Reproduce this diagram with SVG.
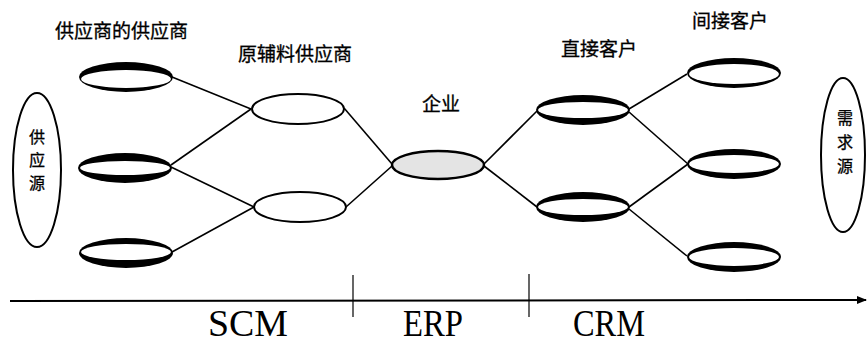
<svg xmlns="http://www.w3.org/2000/svg" width="867" height="343" viewBox="0 0 867 343">
<defs>
<style>
.cjk{font-family:"Noto Sans CJK SC","Noto Sans",sans-serif;font-size:19px;fill:#000;stroke:#000;stroke-width:0.3}
.vt{font-family:"Noto Sans CJK SC","Noto Sans",sans-serif;font-size:16px;fill:#000;text-anchor:middle;stroke:#000;stroke-width:0.3}
.lat{font-family:"Liberation Serif","Times New Roman",serif;font-size:37px;fill:#000}
.outer{fill:#000}
.inner{fill:#fff}
.thin{fill:#fff;stroke:#000;stroke-width:2}
.big{fill:#fff;stroke:#000;stroke-width:2}
.conn{stroke:#000;stroke-width:1.6;fill:none}
</style>
<marker id="arr" viewBox="0 0 10 10" refX="9" refY="5" markerWidth="10" markerHeight="10" markerUnits="userSpaceOnUse" orient="auto">
<path d="M0,1 L10,5 L0,9 Z" fill="#000"/>
</marker>
</defs>
<rect width="867" height="343" fill="#fff"/>

<g id="connectors">
<line class="conn" x1="172" y1="77" x2="251" y2="109"/>
<line class="conn" x1="171" y1="165" x2="251" y2="109"/>
<line class="conn" x1="171" y1="167" x2="254" y2="207"/>
<line class="conn" x1="172" y1="252" x2="254" y2="207"/>
<line class="conn" x1="344" y1="108" x2="392" y2="164"/>
<line class="conn" x1="346" y1="207" x2="392" y2="166"/>
<line class="conn" x1="484" y1="164" x2="537" y2="111"/>
<line class="conn" x1="484" y1="166" x2="537" y2="207"/>
<line class="conn" x1="629" y1="109" x2="687" y2="74"/>
<line class="conn" x1="629" y1="112" x2="688" y2="164"/>
<line class="conn" x1="629" y1="207" x2="688" y2="164"/>
<line class="conn" x1="629" y1="209" x2="687" y2="256"/>
</g>

<g id="axis">
<line x1="10" y1="301" x2="866" y2="300" stroke="#000" stroke-width="2" marker-end="url(#arr)"/>
<line x1="353" y1="275" x2="353" y2="317" stroke="#000" stroke-width="1.2"/>
<line x1="529" y1="274" x2="529" y2="317" stroke="#000" stroke-width="1.2"/>
<text class="lat" x="208" y="336" textLength="80" lengthAdjust="spacingAndGlyphs">SCM</text>
<text class="lat" x="403" y="336" textLength="60" lengthAdjust="spacingAndGlyphs">ERP</text>
<text class="lat" x="573" y="336" textLength="72" lengthAdjust="spacingAndGlyphs">CRM</text>
</g>

<g id="supply-source">
<ellipse class="big" cx="37" cy="170" rx="24" ry="77"/>
<text class="vt" x="37" y="143">供</text>
<text class="vt" x="37" y="166">应</text>
<text class="vt" x="37" y="189">源</text>
</g>

<g id="demand-source">
<ellipse class="big" cx="843" cy="155" rx="22" ry="77"/>
<text class="vt" x="845" y="124">需</text>
<text class="vt" x="845" y="148">求</text>
<text class="vt" x="845" y="172">源</text>
</g>

<g id="label-supplier-supplier"><text class="cjk" x="55" y="38">供应商的供应商</text></g>
<g id="label-raw-supplier"><text class="cjk" x="238" y="61">原辅料供应商</text></g>
<g id="label-enterprise"><text class="cjk" x="422" y="111">企业</text></g>
<g id="label-direct"><text class="cjk" x="561" y="56">直接客户</text></g>
<g id="label-indirect"><text class="cjk" x="692" y="28">间接客户</text></g>

<g id="ss1"><ellipse class="outer" cx="126" cy="77" rx="47" ry="15"/><ellipse class="inner" cx="126" cy="79" rx="45" ry="9"/></g>
<g id="ss2"><ellipse class="outer" cx="125" cy="168" rx="47" ry="15"/><ellipse class="inner" cx="125" cy="168" rx="45" ry="7"/></g>
<g id="ss3"><ellipse class="outer" cx="126" cy="253" rx="47" ry="15"/><ellipse class="inner" cx="126" cy="252" rx="45" ry="8"/></g>

<g id="rs1"><ellipse class="thin" cx="298" cy="109" rx="46" ry="15"/></g>
<g id="rs2"><ellipse class="thin" cx="300" cy="207" rx="46" ry="15"/></g>

<g id="enterprise"><ellipse cx="438" cy="165" rx="46" ry="14" fill="#e4e4e4" stroke="#000" stroke-width="2.5"/></g>

<g id="dc1"><ellipse class="outer" cx="583" cy="110" rx="47" ry="15"/><ellipse class="inner" cx="583" cy="110" rx="45" ry="8"/></g>
<g id="dc2"><ellipse class="outer" cx="583" cy="207" rx="47" ry="15"/><ellipse class="inner" cx="583" cy="207" rx="45" ry="8"/></g>

<g id="ic1"><ellipse class="outer" cx="734" cy="73" rx="47" ry="15"/><ellipse class="inner" cx="734" cy="74" rx="45" ry="10"/></g>
<g id="ic2"><ellipse class="outer" cx="734" cy="164" rx="47" ry="15"/><ellipse class="inner" cx="734" cy="164" rx="45" ry="9"/></g>
<g id="ic3"><ellipse class="outer" cx="734" cy="257" rx="47" ry="15"/><ellipse class="inner" cx="734" cy="257" rx="45" ry="9"/></g>
</svg>
